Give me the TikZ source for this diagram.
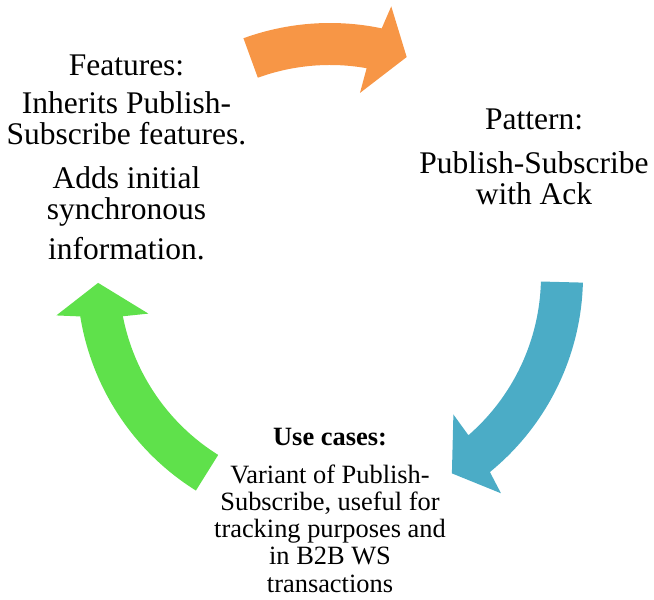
\documentclass[tikz,border=0pt]{standalone}
\usepackage{fontspec}
\setmainfont{Liberation Serif}
\definecolor{arrOrange}{HTML}{F79646}
\definecolor{arrBlue}{HTML}{4BACC6}
\definecolor{arrGreen}{HTML}{5FE14B}

% curved block arrow around (cc): colour, tail angle, inner barb angle (runs clockwise)
\newcommand\cyclearrow[3]{%
  \fill[#1] ([shift={(cc)}]#2:253pt) arc[start angle=#2, end angle=#3-2.5, radius=253pt]
    -- ([shift={(cc)}]#3-3.5:276.5pt) -- ([shift={(cc)}]#3-10:232pt)
    -- ([shift={(cc)}]#3:185.5pt) -- ([shift={(cc)}]#3-0.7:211pt)
    arc[start angle=#3-0.7, end angle=#2, radius=211pt] -- cycle;
}

\tikzset{
  bigline/.style={anchor=base, inner sep=0pt, font=\fontsize{31.5}{31.5}\selectfont},
  smallline/.style={anchor=base, inner sep=0pt, font=\fontsize{26.4}{26.4}\selectfont},
}

\begin{document}
\begin{tikzpicture}[x=1pt, y=1pt]
  \useasboundingbox (0,0) rectangle (654,600);
  \coordinate (cc) at (330,324);

  % the three cycle arrows
  \cyclearrow{arrOrange}{110}{80.7}
  \cyclearrow{arrBlue}{-1.5}{-48.3}
  \cyclearrow{arrGreen}{238}{191.7}

  % features block
  \node[bigline] (f1) at (126.5,524.3) {Features:};
  \node[bigline] (f2) at (126.5,486.7) {Inherits Publish-};
  \node[bigline] (f3) at (126.5,455.7) {Subscribe features.};
  \node[bigline] (f4) at (126.5,411.7) {Adds initial};
  \node[bigline] (f5) at (126.5,380) {synchronous};
  \node[bigline] (f6) at (126.5,340) {information.};

  % pattern block
  \node[bigline] (p1) at (534,470.7) {Pattern:};
  \node[bigline] (p2) at (534,426.7) {Publish-Subscribe};
  \node[bigline] (p3) at (534,395) {with Ack};

  % use cases block
  \node[smallline, font=\fontsize{26.4}{26.4}\selectfont\bfseries] (u1) at (330,154.3) {Use cases:};
  \node[smallline] (u2) at (330,116) {Variant of Publish-};
  \node[smallline] (u3) at (330,89.3) {Subscribe, useful for};
  \node[smallline] (u4) at (330,62.3) {tracking purposes and};
  \node[smallline] (u5) at (330,35) {in B2B WS};
  \node[smallline] (u6) at (330,7.3) {transactions};
\end{tikzpicture}
\end{document}
